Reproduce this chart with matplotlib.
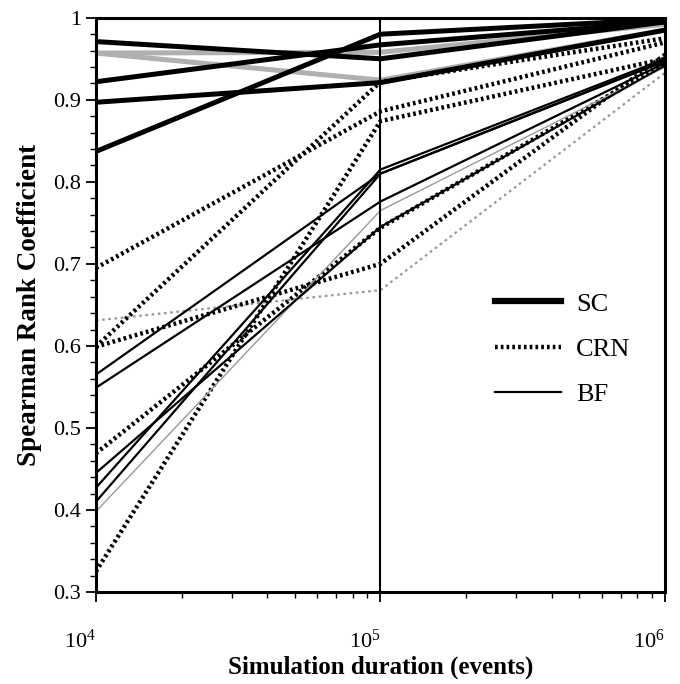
import numpy as np
from matplotlib import pyplot as plt
from matplotlib.ticker import FixedLocator

plt.rcParams['font.family'] = ['Liberation Serif', 'DejaVu Serif']

# simulation durations (events)
events = [1e4, 1e5, 1e6]

# SC runs (thick solid); the grey ones drawn separately
sc_black = [[0.971, 0.950, 0.995],
            [0.922, 0.967, 0.995],
            [0.897, 0.921, 0.985],
            [0.837, 0.980, 0.998]]
sc_grey = [[0.957, 0.958, 0.992],
           [0.957, 0.924, 0.985]]

# CRN runs (thick dotted)
crn_black = [[0.695, 0.886, 0.970],
             [0.599, 0.922, 0.975],
             [0.599, 0.700, 0.955],
             [0.469, 0.744, 0.945],
             [0.325, 0.874, 0.950]]
crn_grey = [[0.631, 0.668, 0.933]]

# BF runs (thin solid)
bf_black = [[0.565, 0.810, 0.948],
            [0.549, 0.776, 0.945],
            [0.445, 0.745, 0.942],
            [0.427, 0.815, 0.950],
            [0.410, 0.810, 0.947]]
bf_grey = [[0.398, 0.765, 0.940]]

fig = plt.figure(figsize=(6.8, 6.84), dpi=100)
ax = fig.add_axes([0.141, 0.1345, 0.837, 0.8395])

dot = (0, (0.6, 0.7))
for ys in sc_grey:
    ax.plot(events, ys, color='#b0b0b0', lw=3.6, solid_capstyle='butt')
for ys in sc_black:
    ax.plot(events, ys, color='black', lw=3.6, solid_capstyle='butt')
for ys in crn_grey:
    ax.plot(events, ys, color='#999999', lw=1.6, ls=(0, (1.2, 1.6)))
for ys in crn_black:
    ax.plot(events, ys, color='black', lw=3.2, ls=dot)
for ys in bf_grey:
    ax.plot(events, ys, color='#999999', lw=1.0)
for ys in bf_black:
    ax.plot(events, ys, color='black', lw=1.6)

ax.axvline(1e5, color='black', lw=1.5)

# legend handles
h_sc, = ax.plot([], [], color='black', lw=4.5)
h_crn, = ax.plot([], [], color='black', lw=3.2, ls=dot)
h_bf, = ax.plot([], [], color='black', lw=1.6)
ax.legend([h_sc, h_crn, h_bf], ['SC', 'CRN', 'BF'], loc='center left',
          bbox_to_anchor=(0.66, 0.423), frameon=False, fontsize=19,
          handlelength=2.5, labelspacing=0.82, handletextpad=0.55)

ax.set_xscale('log')
ax.set_xlim(1e4, 1e6)
ax.set_ylim(0.3, 1.0)
ax.set_xticks([1e4, 1e5, 1e6])
ax.set_xticklabels(['$\\mathregular{10^4}$', '$\\mathregular{10^5}$', '$\\mathregular{10^6}$'],
                   ha='right')
ax.set_yticks(np.arange(0.3, 1.01, 0.1))
ax.set_yticklabels(['0.3', '0.4', '0.5', '0.6', '0.7', '0.8', '0.9', '1'])
ax.yaxis.set_minor_locator(FixedLocator(np.arange(0.3, 1.0, 0.02)))
ax.tick_params(which='major', direction='out', length=7, width=1.3, labelsize=16)
ax.tick_params(which='minor', direction='out', length=4, width=1.0)
ax.tick_params(axis='x', pad=20)

for s in ax.spines.values():
    s.set_linewidth(2.2)

ax.set_xlabel('Simulation duration (events)', fontsize=18, fontweight='bold', labelpad=2)
ax.set_ylabel('Spearman Rank Coefficient', fontsize=19.5, fontweight='bold', labelpad=8)

fig.savefig('out.png', dpi=100)
